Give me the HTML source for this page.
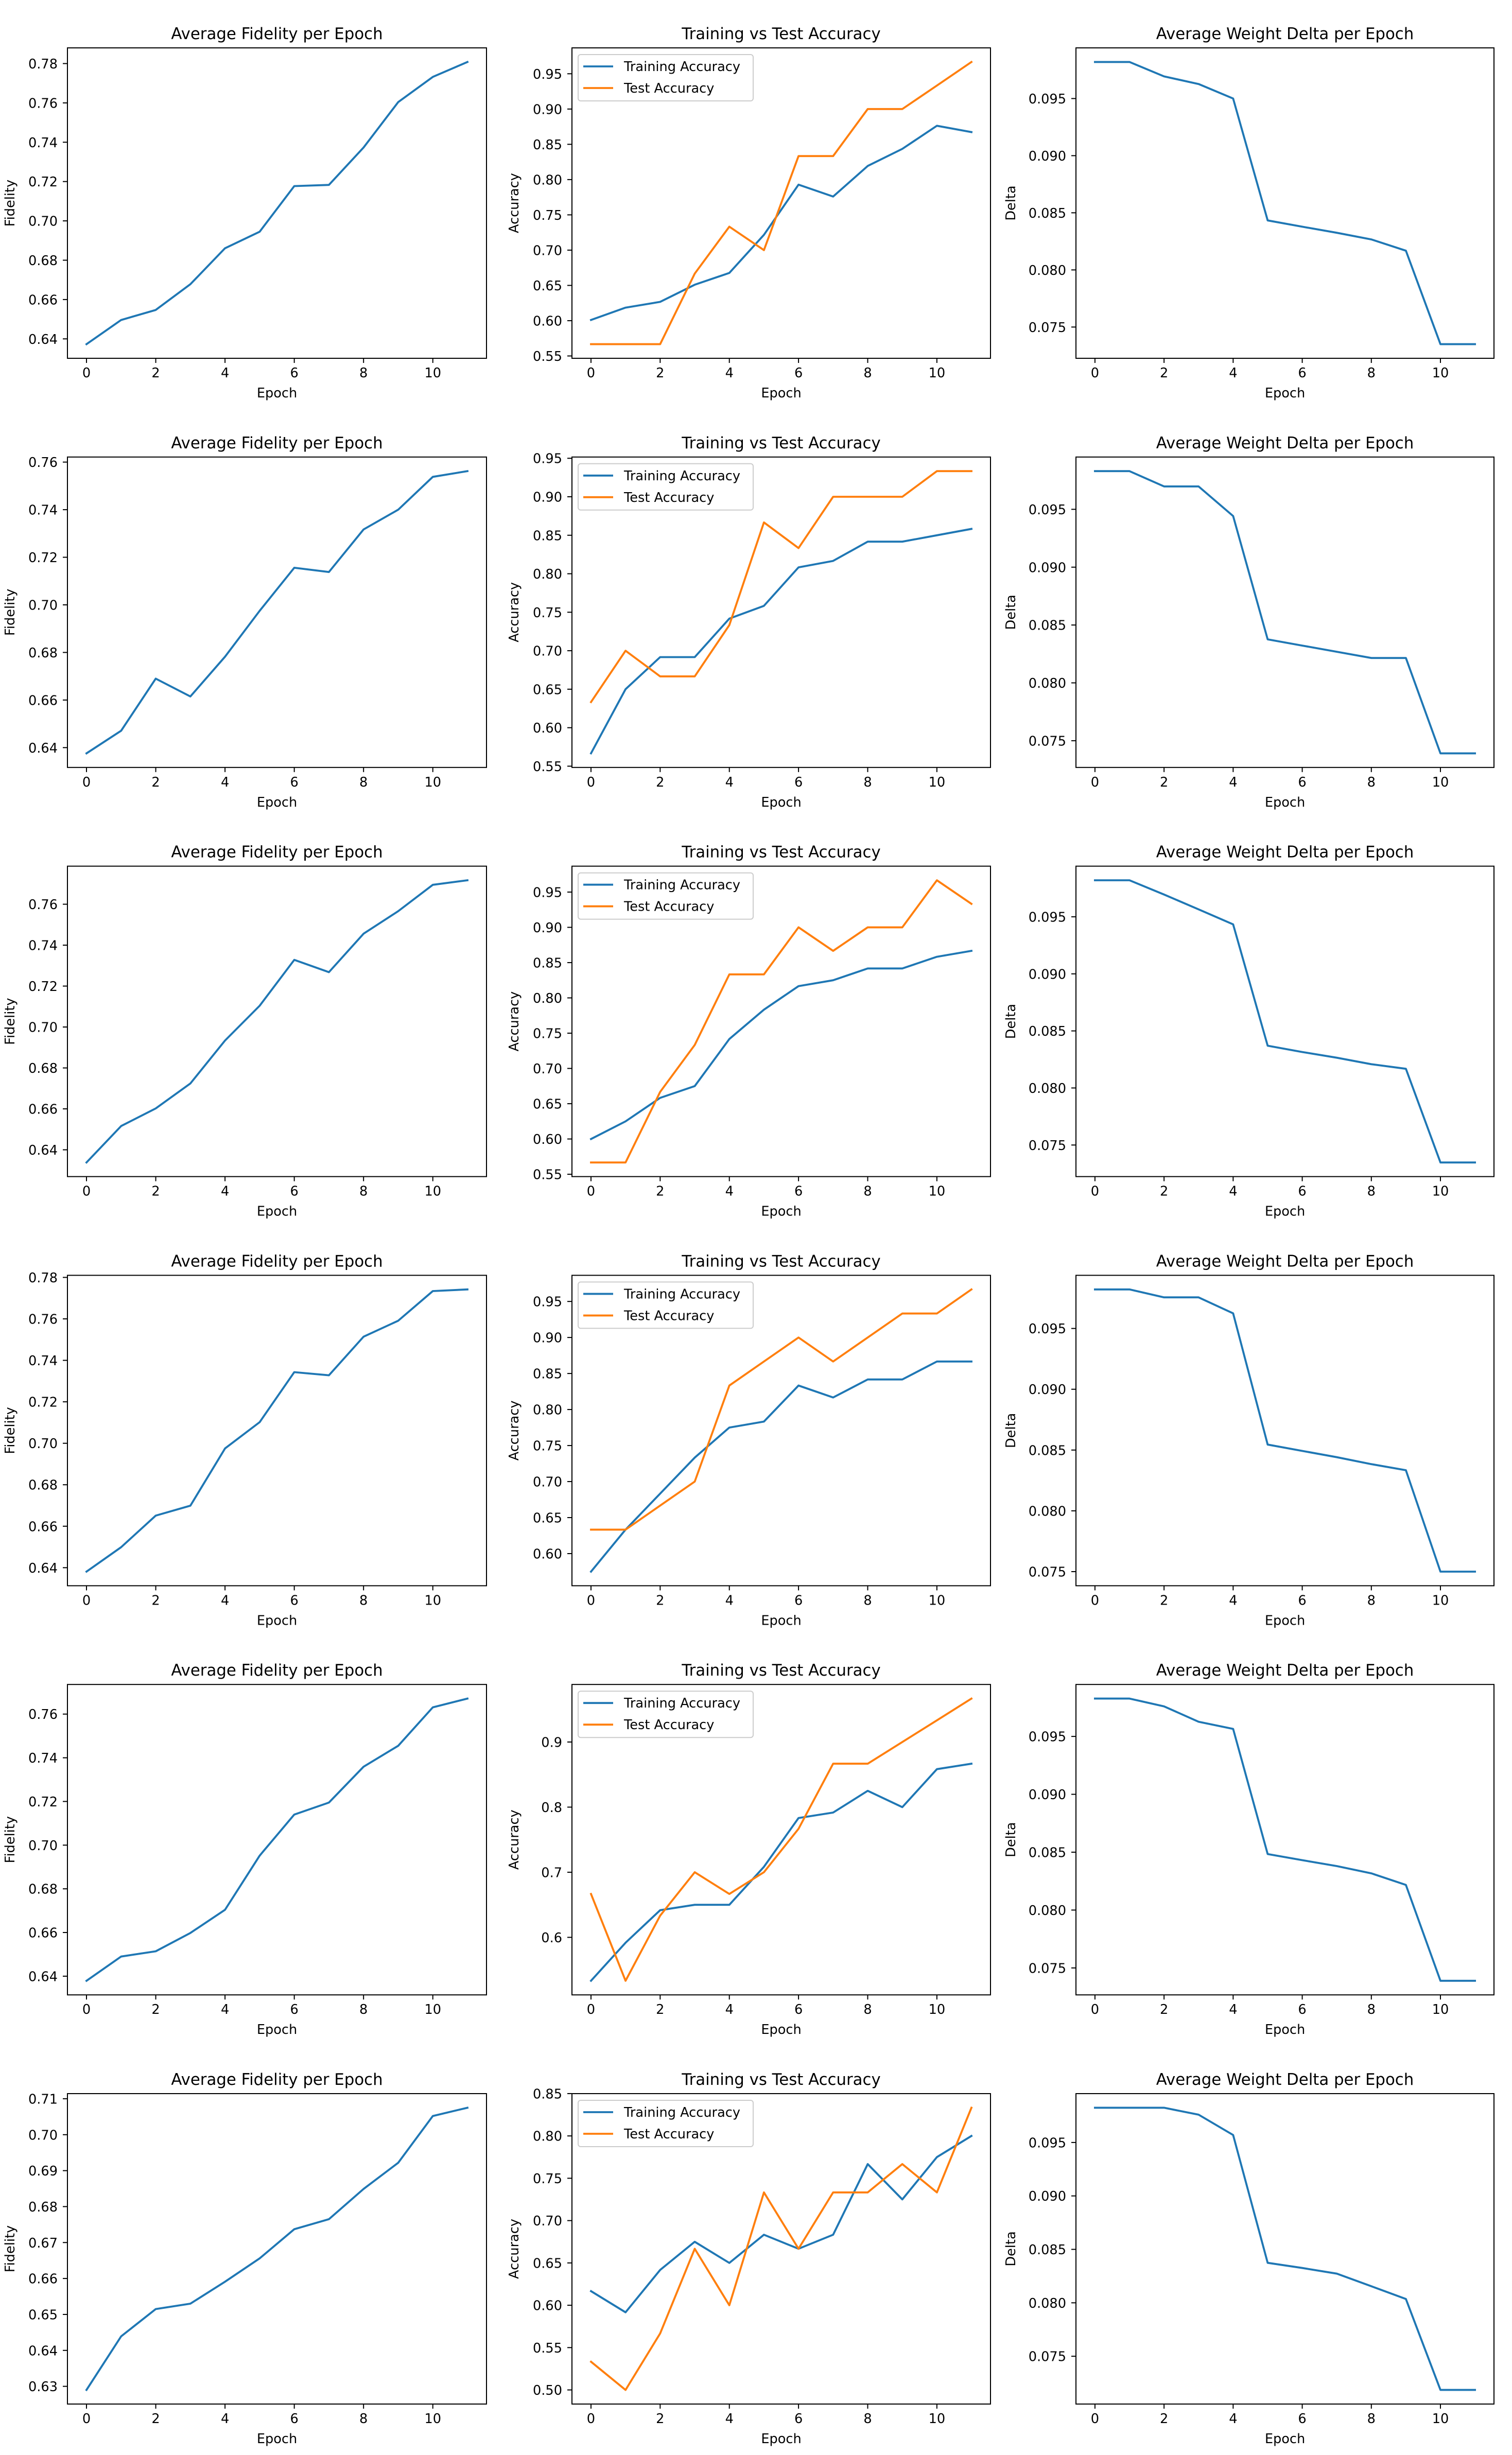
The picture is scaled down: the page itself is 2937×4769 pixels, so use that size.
<!DOCTYPE html>
<html><head><meta charset="utf-8">
<style>
html,body{margin:0;padding:0;background:#fff;}
svg{display:block;font-family:"DejaVu Sans","Liberation Sans",sans-serif;}
</style></head>
<body>
<svg id="fig" xmlns="http://www.w3.org/2000/svg" width="2937" height="4769" viewBox="0 0 2937 4769"></svg>
<script>
const epochs = [0,1,2,3,4,5,6,7,8,9,10,11];
const xTicks = [0,2,4,6,8,10];

const fid1 = [0.6373,0.6496,0.6547,0.6678,0.6861,0.6945,0.7177,0.7183,0.7373,0.7604,0.7732,0.7808];
const fid2 = [0.6376,0.6471,0.6690,0.6615,0.6782,0.6975,0.7156,0.7138,0.7317,0.7400,0.7538,0.7562];
const fid3 = [0.6338,0.6516,0.6602,0.6724,0.6934,0.7104,0.7328,0.7268,0.7456,0.7566,0.7695,0.7717];
const fid4 = [0.6381,0.6499,0.6651,0.6699,0.6975,0.7102,0.7343,0.7328,0.7514,0.7591,0.7734,0.7742];
const fid5 = [0.6379,0.6490,0.6514,0.6598,0.6704,0.6952,0.7140,0.7195,0.7359,0.7455,0.7631,0.7671];
const fid6 = [0.6290,0.6439,0.6515,0.6530,0.6591,0.6656,0.6737,0.6765,0.6849,0.6922,0.7052,0.7075];

const train1 = [0.6010,0.6185,0.6267,0.6510,0.6677,0.7217,0.7928,0.7760,0.8193,0.8435,0.8763,0.8673];
const train2 = [0.5667,0.65,0.6917,0.6917,0.7417,0.7583,0.8083,0.8167,0.8417,0.8417,0.85,0.8583];
const train3 = [0.60,0.625,0.6583,0.675,0.7417,0.7833,0.8167,0.825,0.8417,0.8417,0.8583,0.8667];
const train4 = [0.575,0.6333,0.6833,0.7333,0.775,0.7833,0.8333,0.8167,0.8417,0.8417,0.8667,0.8667];
const train5 = [0.5333,0.5917,0.6417,0.65,0.65,0.7083,0.7833,0.7917,0.825,0.80,0.8583,0.8667];
const train6 = [0.6167,0.5917,0.6417,0.675,0.65,0.6833,0.6667,0.6833,0.7667,0.725,0.775,0.80];

const test1 = [0.5667,0.5667,0.5667,0.6667,0.7333,0.70,0.8333,0.8333,0.90,0.90,0.9333,0.9667];
const test2 = [0.6333,0.70,0.6667,0.6667,0.7333,0.8667,0.8333,0.90,0.90,0.90,0.9333,0.9333];
const test3 = [0.5667,0.5667,0.6667,0.7333,0.8333,0.8333,0.90,0.8667,0.90,0.90,0.9667,0.9333];
const test4 = [0.6333,0.6333,0.6667,0.70,0.8333,0.8667,0.90,0.8667,0.90,0.9333,0.9333,0.9667];
const test5 = [0.6667,0.5333,0.6333,0.70,0.6667,0.70,0.7667,0.8667,0.8667,0.90,0.9333,0.9667];
const test6 = [0.5333,0.50,0.5667,0.6667,0.60,0.7333,0.6667,0.7333,0.7333,0.7667,0.7333,0.8333];

const delta1 = [0.0982,0.0982,0.09694,0.09627,0.0950,0.08433,0.08378,0.08325,0.08267,0.08168,0.0735,0.0735];
const delta2 = [0.0983,0.0983,0.09698,0.09698,0.09442,0.08376,0.08322,0.08269,0.08215,0.08215,0.07391,0.07391];
const delta3 = [0.0982,0.0982,0.09695,0.09565,0.09434,0.0837,0.08315,0.08265,0.08208,0.08168,0.07347,0.07347];
const delta4 = [0.09821,0.09821,0.09756,0.09756,0.09624,0.08545,0.08493,0.08441,0.08384,0.08334,0.0750,0.0750];
const delta5 = [0.09827,0.09827,0.0976,0.09627,0.09565,0.08484,0.08431,0.0838,0.08317,0.08217,0.07389,0.07389];
const delta6 = [0.09825,0.09825,0.09825,0.0976,0.0957,0.08374,0.08326,0.08273,0.08155,0.08036,0.07185,0.07185];

const fidTicksA = ["0.64","0.66","0.68","0.70","0.72","0.74","0.76","0.78"];
const fidTicksB = ["0.64","0.66","0.68","0.70","0.72","0.74","0.76"];
const fidTicksC = ["0.63","0.64","0.65","0.66","0.67","0.68","0.69","0.70","0.71"];
const accTicksA = ["0.55","0.60","0.65","0.70","0.75","0.80","0.85","0.90","0.95"];
const accTicksB = ["0.60","0.65","0.70","0.75","0.80","0.85","0.90","0.95"];
const accTicksC = ["0.6","0.7","0.8","0.9"];
const accTicksD = ["0.50","0.55","0.60","0.65","0.70","0.75","0.80","0.85"];
const deltaTicks = ["0.075","0.080","0.085","0.090","0.095"];

const fidRows = [fid1,fid2,fid3,fid4,fid5,fid6];
const trainRows = [train1,train2,train3,train4,train5,train6];
const testRows = [test1,test2,test3,test4,test5,test6];
const deltaRows = [delta1,delta2,delta3,delta4,delta5,delta6];
const fidTickRows = [fidTicksA,fidTicksB,fidTicksB,fidTicksA,fidTicksB,fidTicksC];
const accTickRows = [accTicksA,accTicksA,accTicksA,accTicksB,accTicksC,accTicksD];

const NS = "http://www.w3.org/2000/svg";
const svg = document.getElementById("fig");
const BLUE = "#1f77b4", ORANGE = "#ff7f0e";
const TICK_FS = 25.6, TITLE_FS = 30.8, LABEL_FS = 25.6;
const colX = [[131,945],[1111,1924],[2090,2902]];
const ROW_TOP = 93, ROW_PITCH = 794.8, AX_H = 603;

function mk(tag, attrs, parent) {
  const e = document.createElementNS(NS, tag);
  for (const k in attrs) e.setAttribute(k, attrs[k]);
  (parent || svg).appendChild(e);
  return e;
}

function panel(x0, x1, y0, series, tickLabels, title, ylabel, ylabelX, legend, key) {
  const y1 = y0 + AX_H;
  const g = mk("g", {});
  
  
  let lo = Infinity, hi = -Infinity;
  series.forEach(s => s.values.forEach(v => { lo = Math.min(lo, v); hi = Math.max(hi, v); }));
  const m = (hi - lo) * 0.05; lo -= m; hi += m;
  const xs = v => x0 + (v + 0.55) / 12.1 * (x1 - x0);
  const ys = v => y1 - (v - lo) / (hi - lo) * (y1 - y0);

  // title
  const t = mk("text", {x: (x0 + x1) / 2, y: y0 - 17, "font-size": TITLE_FS, "text-anchor": "middle", fill: "#000"}, g);
  t.textContent = title;
  
  

  // x ticks
  xTicks.forEach(v => {
    const X = xs(v);
    const tk = mk("line", {x1: X, x2: X, y1: y1, y2: y1 + 9, stroke: "#000", "stroke-width": 2}, g);
    
    
    const tl = mk("text", {x: X, y: y1 + 37, "font-size": TICK_FS, "text-anchor": "middle", fill: "#000"}, g);
    tl.textContent = String(v);
    
    
  });
  const xl = mk("text", {x: (x0 + x1) / 2, y: y1 + 76, "font-size": LABEL_FS, "text-anchor": "middle", fill: "#000"}, g);
  xl.textContent = "Epoch";
  
  

  // y ticks
  tickLabels.forEach(lbl => {
    const Y = ys(parseFloat(lbl));
    const tk = mk("line", {x1: x0 - 9, x2: x0, y1: Y, y2: Y, stroke: "#000", "stroke-width": 2}, g);
    
    
    const tl = mk("text", {x: x0 - 19, y: Y + 9.5, "font-size": TICK_FS, "text-anchor": "end", fill: "#000"}, g);
    tl.textContent = lbl;
    
    
  });
  const cy = (y0 + y1) / 2;
  const yl = mk("text", {x: ylabelX, y: cy, "font-size": LABEL_FS, "text-anchor": "middle", fill: "#000", transform: "rotate(-90 " + ylabelX + " " + cy + ")"}, g);
  yl.textContent = ylabel;
  
  

  // series
  series.forEach(s => {
    const pts = s.values.map((v, i) => xs(epochs[i]).toFixed(1) + "," + ys(v).toFixed(1)).join(" ");
    const pl = mk("polyline", {points: pts, fill: "none", stroke: s.color, "stroke-width": 3.85, "stroke-linejoin": "round", "stroke-linecap": "square"}, g);
    
    
  });

  // frame
  const fr = mk("rect", {x: x0, y: y0, width: x1 - x0, height: AX_H, fill: "none", stroke: "#000", "stroke-width": 2}, g);
  
  

  if (legend) {
    const lg = mk("g", {}, g);
    
    
    const bx = mk("rect", {x: x0 + 12, y: y0 + 13, width: 340, height: 90, rx: 5, fill: "#fff", "fill-opacity": 0.8, stroke: "#cccccc", "stroke-width": 2}, lg);
    
    
    series.forEach((s, i) => {
      const ly = y0 + 36 + i * 42;
      const ln = mk("line", {x1: x0 + 22, x2: x0 + 80, y1: ly, y2: ly, stroke: s.color, "stroke-width": 3.85}, lg);
      
      
      const lt = mk("text", {x: x0 + 101, y: ly + 9, "font-size": TICK_FS, fill: "#000"}, lg);
      lt.textContent = s.label;
      
      
    });
  }
}

for (let r = 0; r < 6; r++) {
  const y0 = ROW_TOP + r * ROW_PITCH;
  panel(colX[0][0], colX[0][1], y0,
    [{name: "fidelity", label: "Fidelity", color: BLUE, values: fidRows[r]}],
    fidTickRows[r], "Average Fidelity per Epoch", "Fidelity", 28, false, "fidelity-row" + (r + 1));
  panel(colX[1][0], colX[1][1], y0,
    [{name: "training", label: "Training Accuracy", color: BLUE, values: trainRows[r]},
     {name: "test", label: "Test Accuracy", color: ORANGE, values: testRows[r]}],
    accTickRows[r], "Training vs Test Accuracy", "Accuracy", 1007, true, "accuracy-row" + (r + 1));
  panel(colX[2][0], colX[2][1], y0,
    [{name: "delta", label: "Delta", color: BLUE, values: deltaRows[r]}],
    deltaTicks, "Average Weight Delta per Epoch", "Delta", 1972, false, "delta-row" + (r + 1));
}
</script>
</body></html>
